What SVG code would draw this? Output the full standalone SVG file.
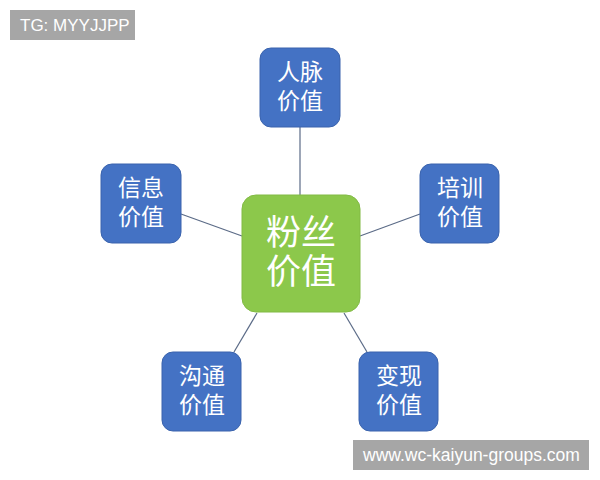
<svg xmlns="http://www.w3.org/2000/svg" width="600" height="480" viewBox="0 0 600 480">
<style>
.node{fill:#4472C4;stroke:#3a63ad;stroke-width:1}
.t{fill:#fff;font-family:"Noto Sans CJK SC","Noto Sans",sans-serif;font-size:23px;text-anchor:middle}
.tc{fill:#fff;font-family:"Noto Sans CJK SC","Noto Sans",sans-serif;font-size:35px;text-anchor:middle}
.wm{fill:#a6a6a6}
.wt{fill:#fff;font-family:"Liberation Sans",Arial,sans-serif}
#connectors line{stroke:#5b6b87;stroke-width:1.2}
</style>
<rect width="600" height="480" fill="#fff"/>
<g id="connectors">
<line x1="300" y1="127" x2="300" y2="196"/>
<line x1="181" y1="214" x2="242" y2="236"/>
<line x1="420" y1="214" x2="360" y2="236"/>
<line x1="234" y1="352" x2="257" y2="313"/>
<line x1="367" y1="352" x2="344" y2="313"/>
</g>
<g id="center">
<rect x="242" y="195" width="118" height="117" rx="14" fill="#8CC84B" stroke="#82ba45"/>
<text class="tc" x="301" y="245"><tspan x="301">粉丝</tspan><tspan x="301" dy="39">价值</tspan></text>
</g>
<g id="renmai">
<rect class="node" x="260" y="48" width="80" height="79" rx="11"/>
<text class="t" x="300" y="80"><tspan x="300">人脉</tspan><tspan x="300" dy="29">价值</tspan></text>
</g>
<g id="xinxi">
<rect class="node" x="101" y="164" width="80" height="79" rx="11"/>
<text class="t" x="141" y="196"><tspan x="141">信息</tspan><tspan x="141" dy="29">价值</tspan></text>
</g>
<g id="peixun">
<rect class="node" x="420" y="164" width="79" height="79" rx="11"/>
<text class="t" x="460" y="196"><tspan x="460">培训</tspan><tspan x="460" dy="29">价值</tspan></text>
</g>
<g id="goutong">
<rect class="node" x="162" y="352" width="79" height="79" rx="11"/>
<text class="t" x="202" y="384"><tspan x="202">沟通</tspan><tspan x="202" dy="29">价值</tspan></text>
</g>
<g id="bianxian">
<rect class="node" x="359" y="352" width="79" height="79" rx="11"/>
<text class="t" x="399" y="384"><tspan x="399">变现</tspan><tspan x="399" dy="29">价值</tspan></text>
</g>
<rect class="wm" x="10" y="10" width="125" height="30"/>
<text class="wt" x="20" y="31" font-size="17">TG: MYYJJPP</text>
<rect class="wm" x="353" y="440" width="236" height="30"/>
<text class="wt" x="363" y="461" font-size="17.5">www.wc-kaiyun-groups.com</text>
</svg>
